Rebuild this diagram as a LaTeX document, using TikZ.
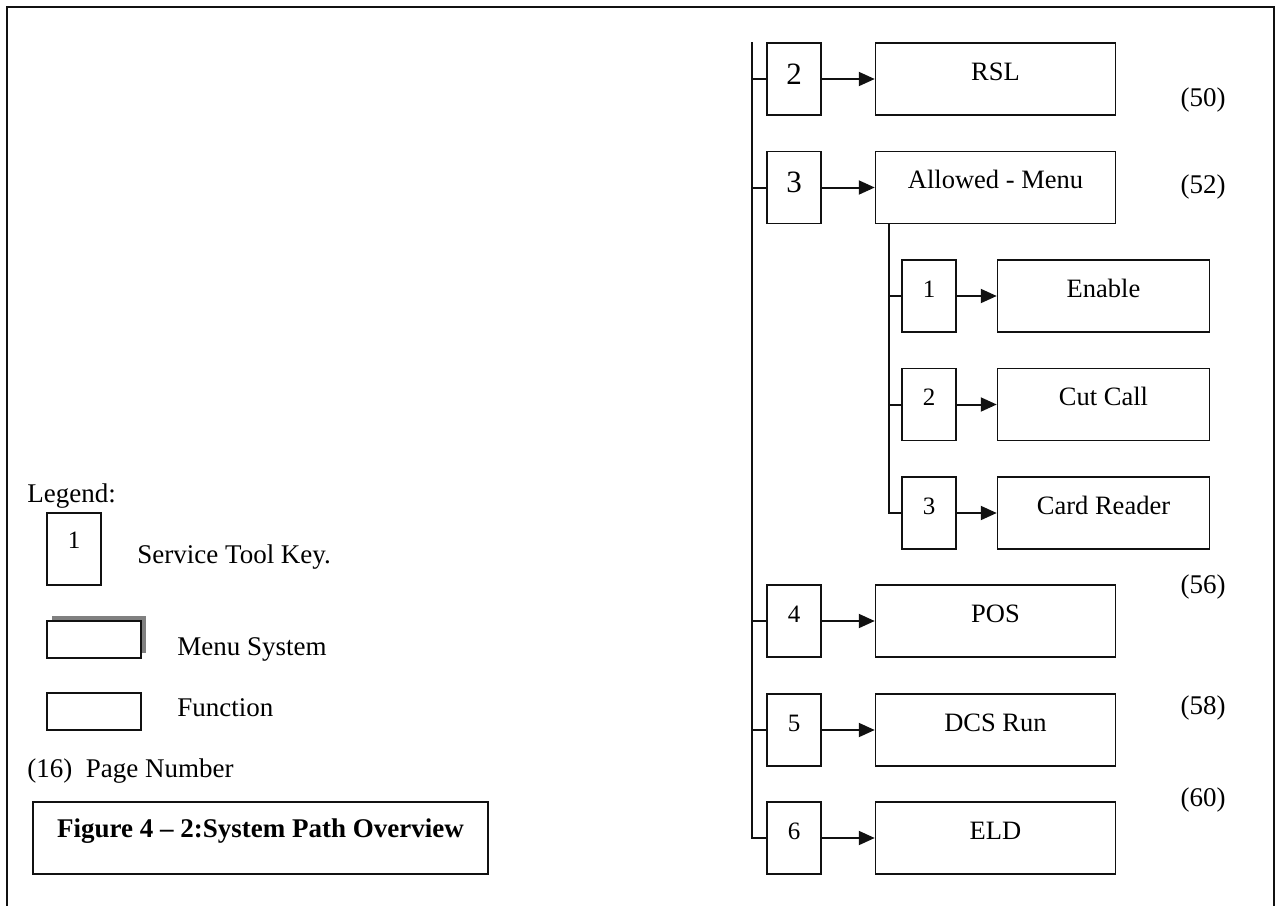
\documentclass[tikz,border=0pt]{standalone}
\usepackage{fontspec}
\setmainfont{Liberation Serif}
\usetikzlibrary{positioning, arrows.meta, shadows}
\definecolor{cInk}{HTML}{111111}
\definecolor{cShade}{HTML}{808080}

\begin{document}
\begin{tikzpicture}[x=0.5pt, y=-0.5pt,
  txt/.style={inner sep=0pt,font=\fontsize{13.5}{16}\selectfont},
  keybox/.style={draw=cInk,line width=0.75pt,inner sep=0pt,minimum width=27pt,minimum height=36pt,text height=18.5pt,text depth=17.5pt,font=\fontsize{12.5}{15}\selectfont},
  bigkey/.style={keybox,font=\fontsize{15.5}{18}\selectfont,text height=20.5pt,text depth=15.5pt},
  funcbox/.style={draw=cInk,line width=0.75pt,inner sep=0pt,minimum width=120pt,minimum height=36pt,text height=18.5pt,text depth=17.5pt,font=\fontsize{13.25}{16}\selectfont},
  subfunc/.style={funcbox,minimum width=106pt},
  lbox/.style={draw=cInk,line width=0.75pt,fill=white,inner sep=0pt,minimum width=47pt,minimum height=18.5pt},
  capbox/.style={draw=cInk,line width=0.75pt,inner sep=0pt,minimum width=227.5pt,minimum height=36pt,text height=17.5pt,text depth=18.5pt,font=\fontsize{13.5}{16}\selectfont\bfseries},
  arr/.style={-{Triangle[length=8pt,width=7pt]},line width=1pt,draw=cInk},
  wire/.style={line width=1pt,draw=cInk},
  pg/.style={font=\fontsize{13.5}{16}\selectfont}]
  \useasboundingbox (0,0) rectangle (1282,906);
  \draw[line width=1pt,cInk] (7,906) -- (7,7) -- (1274,7) -- (1274,906);

  % main menu keys and functions
  \node[bigkey] (k2) at (794,79) {2};
  \node[bigkey] (k3) at (794,187.5) {3};
  \node[keybox] (k4) at (794,621) {4};
  \node[keybox] (k5) at (794,730) {5};
  \node[keybox] (k6) at (794,838) {6};
  \node[funcbox, right=26.5pt of k2] (rsl) {RSL};
  \node[funcbox, right=26.5pt of k3] (allow) {Allowed - Menu};
  \node[funcbox, right=26.5pt of k4] (pos) {POS};
  \node[funcbox, right=26.5pt of k5] (dcs) {DCS Run};
  \node[funcbox, right=26.5pt of k6] (eld) {ELD};

  % allowed menu sub keys
  \node[keybox] (s1) at (929,296) {1};
  \node[keybox] (s2) at (929,404.5) {2};
  \node[keybox] (s3) at (929,513) {3};
  \node[subfunc, right=20pt of s1] (enable) {Enable};
  \node[subfunc, right=20pt of s2] (cutcall) {Cut Call};
  \node[subfunc, right=20pt of s3] (reader) {Card Reader};

  \coordinate (trunk) at ([xshift=-7pt]k2.north west);
  \draw[wire] (trunk) -- (trunk |- k6.west) -- (k6.west);
  \foreach \k in {k2,k3,k4,k5} \draw[wire] (trunk |- \k.west) -- (\k.west);
  \foreach \k/\f in {k2/rsl,k3/allow,k4/pos,k5/dcs,k6/eld} \draw[arr] (\k.east) -- (\f.west);

  \coordinate (subtrunk) at ([xshift=7pt]allow.south west);
  \draw[wire] (subtrunk) -- (subtrunk |- s3.west) -- (s3.west);
  \foreach \k in {s1,s2} \draw[wire] (subtrunk |- \k.west) -- (\k.west);
  \foreach \k/\f in {s1/enable,s2/cutcall,s3/reader} \draw[arr] (\k.east) -- (\f.west);

  % page numbers
  \node[pg] (p50) at (1203,100) {(50)};
  \node[pg] (p52) at (1203,187) {(52)};
  \node[pg] (p56) at (1203,587) {(56)};
  \node[pg] (p58) at (1203,708) {(58)};
  \node[pg] (p60) at (1203,800) {(60)};

  % legend
  \node[txt, anchor=base west] (legend) at (27,502) {Legend:};
  \node[keybox, text height=17.5pt, text depth=18.5pt] (lkey) at (74,549) {1};
  \node[txt, anchor=base west] (lkeytxt) at (137,563) {Service Tool Key.};
  \node[lbox, general shadow={fill=cShade,shadow xshift=2.5pt,shadow yshift=2.5pt}] (lmenu) at (94,639.5) {};
  \node[txt, anchor=base west] (lmenutxt) at (177,655) {Menu System};
  \node[lbox] (lfunc) at (94,711.5) {};
  \node[txt, anchor=base west] (lfunctxt) at (177,716) {Function};
  \node[txt, anchor=base west] (lpage) at (27,777) {(16)\ \ Page Number};
  \node[capbox] (caption) at (260.5,838) {Figure 4 – 2:System Path Overview};
\end{tikzpicture}
\end{document}
